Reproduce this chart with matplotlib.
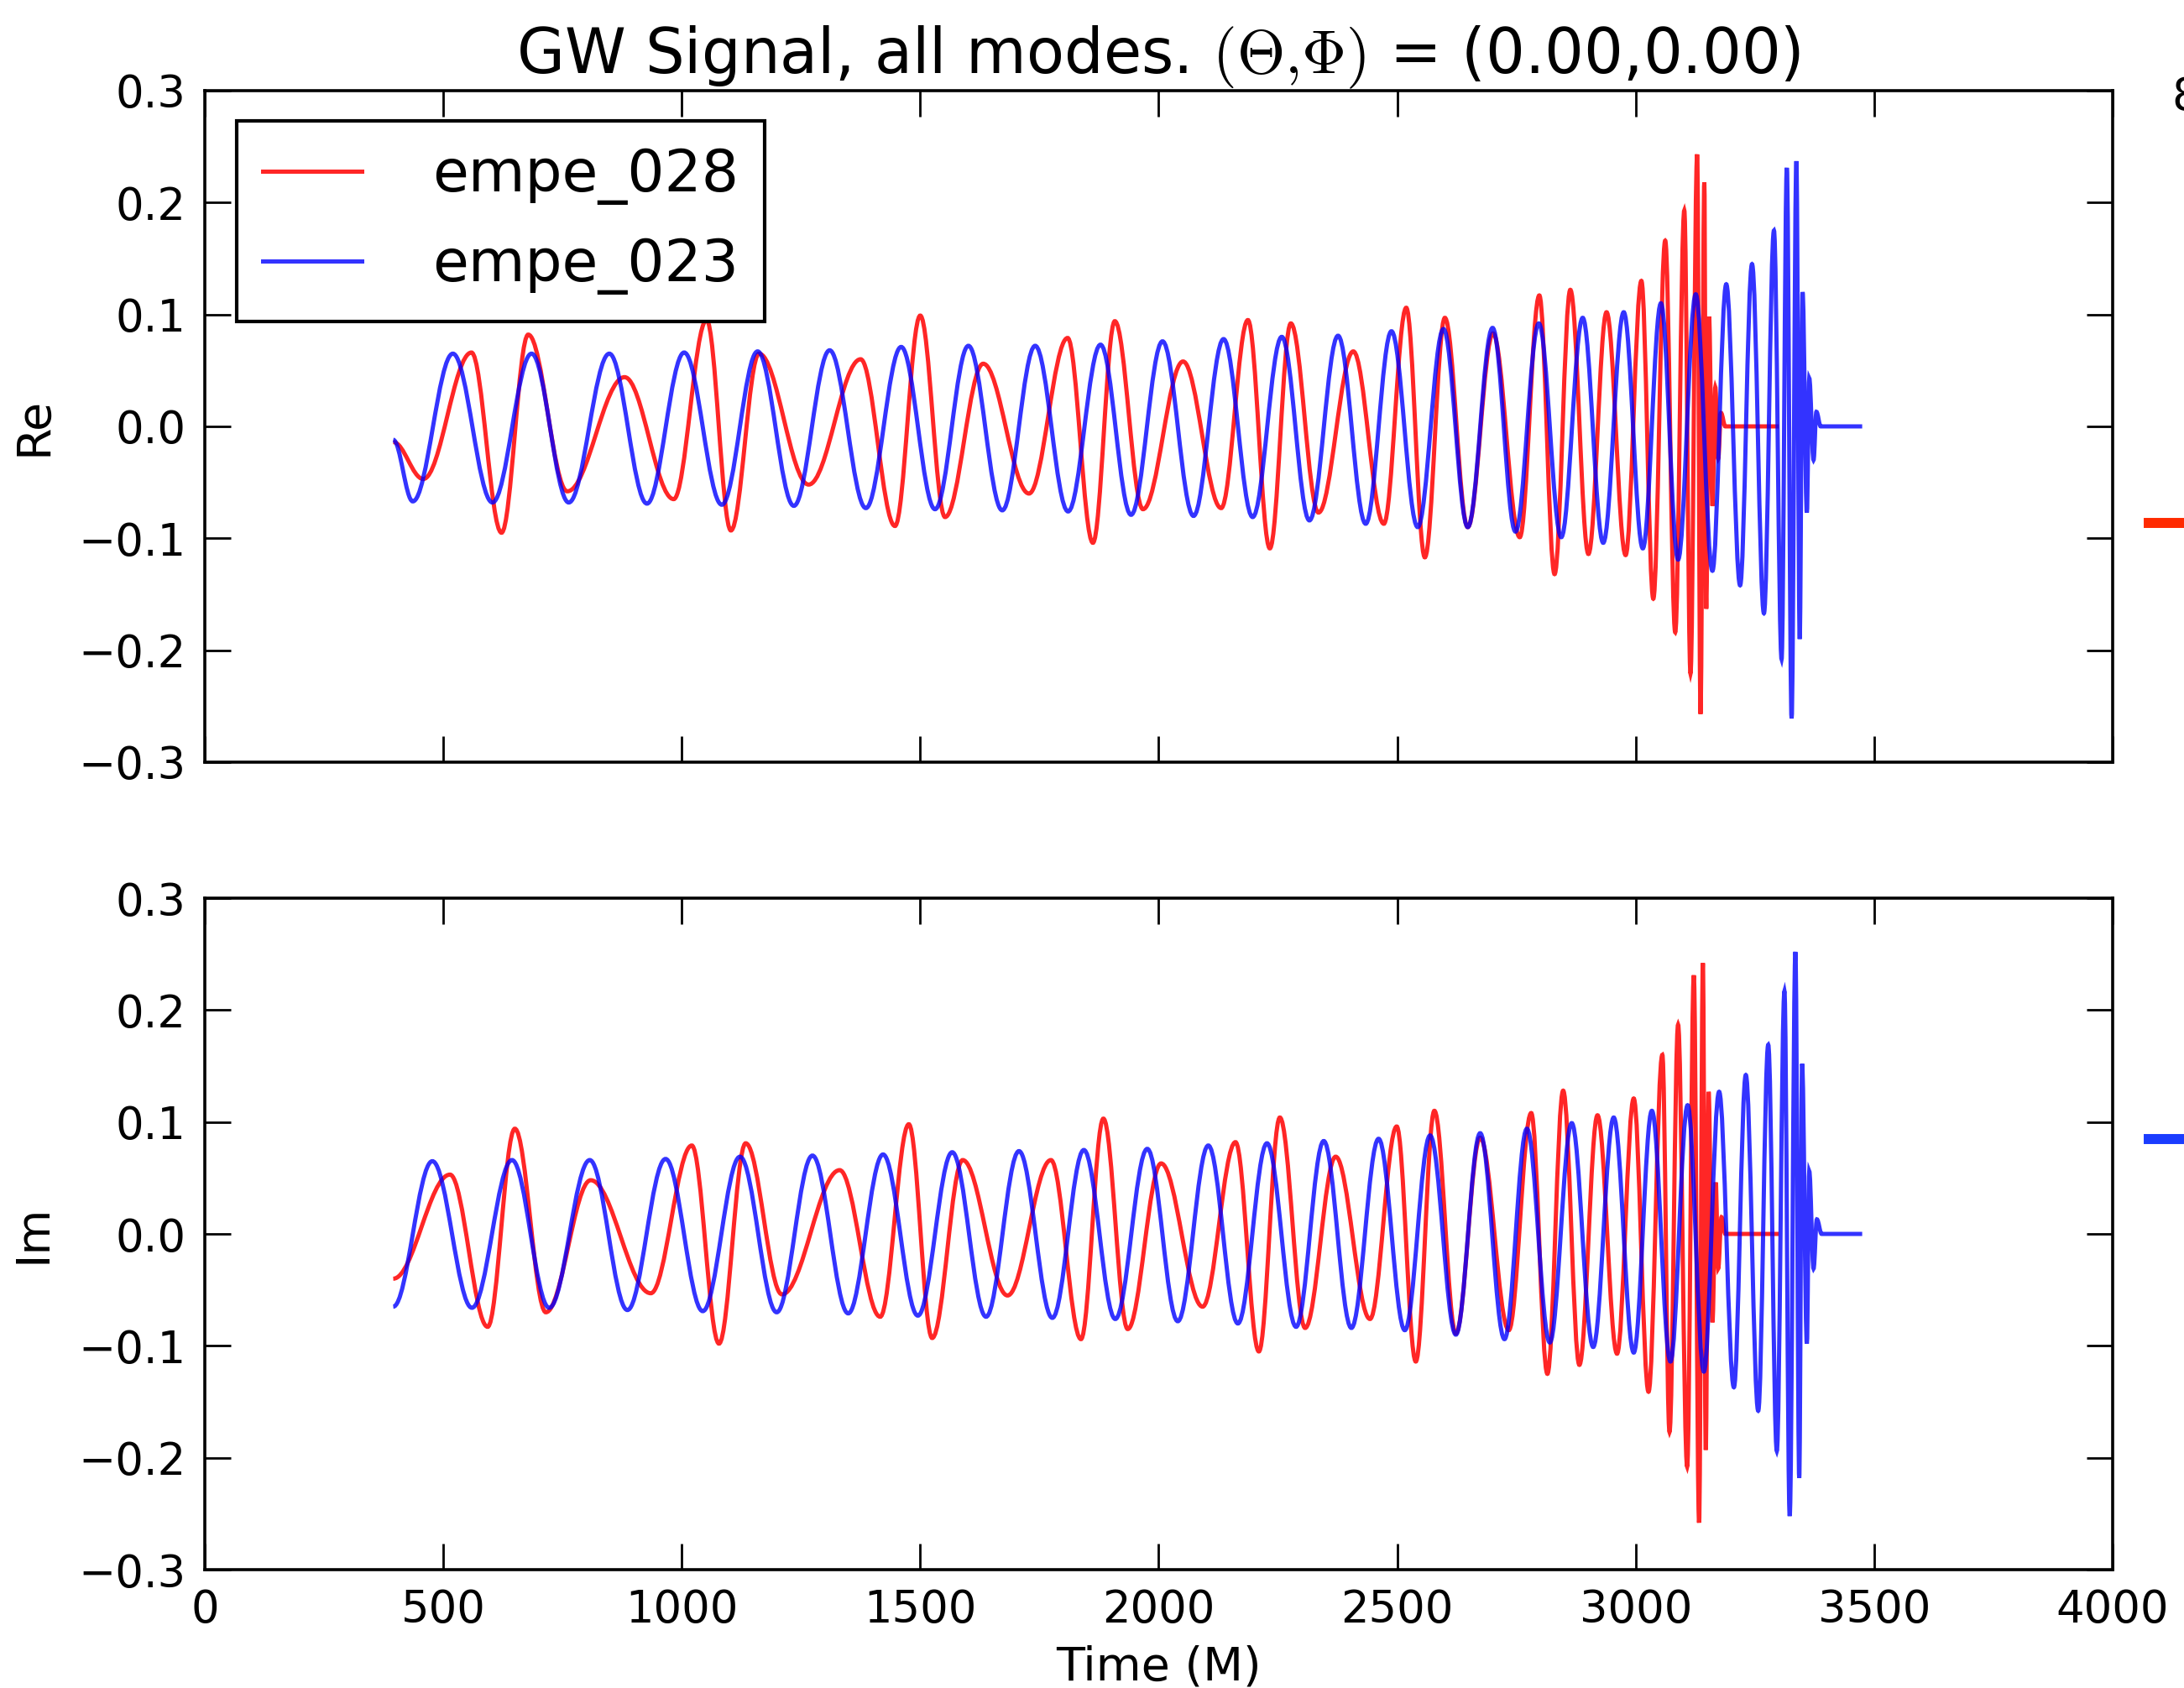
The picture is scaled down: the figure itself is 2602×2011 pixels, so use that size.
import matplotlib
matplotlib.use("Agg")
import matplotlib.pyplot as plt
from matplotlib.path import Path
from matplotlib.patches import PathPatch
from matplotlib.lines import Line2D

# extrema (time, value), Re part
re_028_t = [395, 458, 559, 622, 678, 760, 880, 983, 1052, 1103, 1162, 1266, 1375, 1447, 1500, 1552,
            1632, 1728, 1809, 1862, 1908, 1967, 2051, 2131, 2187, 2233, 2277, 2335, 2408, 2472, 2519,
            2558, 2600, 2648, 2701, 2757, 2798, 2830, 2863, 2901, 2939, 2979, 3012, 3037, 3062, 3083,
            3102, 3115, 3129, 3136, 3144, 3148, 3154, 3161, 3167, 3173, 3179, 3188, 3300]
re_028_v = [-0.014, -0.047, 0.066, -0.095, 0.082, -0.058, 0.044, -0.065, 0.095, -0.093, 0.065, -0.052,
            0.060, -0.089, 0.099, -0.081, 0.056, -0.060, 0.079, -0.104, 0.094, -0.074, 0.058, -0.073,
            0.095, -0.109, 0.092, -0.077, 0.067, -0.087, 0.106, -0.117, 0.097, -0.090, 0.083, -0.099,
            0.117, -0.132, 0.122, -0.114, 0.102, -0.115, 0.130, -0.154, 0.166, -0.184, 0.193, -0.221,
            0.243, -0.257, 0.218, -0.163, 0.098, -0.071, 0.035, -0.029, 0.012, 0.0, 0.0]

re_023_t = [395, 436, 520, 603, 685, 763, 848, 927, 1005, 1084, 1159, 1235, 1310, 1386, 1460, 1531,
            1601, 1672, 1741, 1810, 1878, 1942, 2008, 2073, 2136, 2197, 2258, 2316, 2376, 2434, 2488,
            2543, 2597, 2648, 2700, 2748, 2797, 2844, 2889, 2932, 2975, 3015, 3053, 3089, 3126, 3161,
            3190, 3219, 3244, 3269, 3290, 3306, 3317, 3327, 3337, 3344, 3350, 3359, 3364, 3373, 3379,
            3388, 3475]
re_023_v = [-0.012, -0.067, 0.065, -0.068, 0.065, -0.068, 0.065, -0.069, 0.066, -0.070, 0.067, -0.071,
            0.068, -0.073, 0.071, -0.074, 0.072, -0.075, 0.072, -0.076, 0.073, -0.079, 0.076, -0.080,
            0.078, -0.081, 0.080, -0.084, 0.081, -0.087, 0.085, -0.090, 0.087, -0.090, 0.088, -0.094,
            0.092, -0.099, 0.097, -0.104, 0.102, -0.109, 0.110, -0.119, 0.118, -0.129, 0.127, -0.142,
            0.145, -0.167, 0.175, -0.208, 0.231, -0.261, 0.237, -0.190, 0.120, -0.077, 0.043, -0.030,
            0.013, 0.0, 0.0]

# Im part
im_028_t = [395, 514, 593, 650, 715, 809, 935, 1021, 1078, 1134, 1210, 1331, 1416, 1476, 1525, 1589,
            1683, 1774, 1837, 1884, 1935, 2005, 2092, 2161, 2210, 2254, 2307, 2371, 2443, 2499, 2539,
            2578, 2623, 2674, 2734, 2781, 2815, 2848, 2882, 2920, 2961, 2996, 3027, 3056, 3071, 3089,
            3108, 3122, 3133, 3141, 3147, 3153, 3161, 3168, 3173, 3180, 3188, 3300]
im_028_v = [-0.040, 0.053, -0.083, 0.094, -0.070, 0.048, -0.053, 0.079, -0.098, 0.081, -0.054, 0.057,
            -0.074, 0.098, -0.093, 0.066, -0.055, 0.066, -0.094, 0.103, -0.085, 0.063, -0.065, 0.082,
            -0.105, 0.104, -0.084, 0.069, -0.076, 0.096, -0.114, 0.110, -0.089, 0.086, -0.086, 0.108,
            -0.125, 0.128, -0.117, 0.106, -0.107, 0.121, -0.141, 0.160, -0.177, 0.187, -0.208, 0.231,
            -0.258, 0.242, -0.193, 0.127, -0.079, 0.046, -0.031, 0.015, 0.0, 0.0]

im_023_t = [395, 477, 560, 644, 722, 807, 886, 966, 1044, 1122, 1199, 1274, 1349, 1422, 1495, 1567,
            1638, 1707, 1777, 1843, 1909, 1976, 2040, 2104, 2166, 2227, 2288, 2346, 2404, 2461, 2516,
            2569, 2623, 2674, 2725, 2772, 2820, 2866, 2911, 2954, 2996, 3034, 3073, 3109, 3143, 3175,
            3206, 3231, 3257, 3278, 3296, 3312, 3323, 3335, 3343, 3349, 3359, 3364, 3373, 3380, 3390,
            3475]
im_023_v = [-0.065, 0.065, -0.066, 0.066, -0.066, 0.066, -0.068, 0.067, -0.069, 0.069, -0.070, 0.070,
            -0.071, 0.071, -0.073, 0.073, -0.074, 0.074, -0.075, 0.075, -0.076, 0.076, -0.078, 0.079,
            -0.080, 0.081, -0.083, 0.083, -0.084, 0.085, -0.086, 0.088, -0.090, 0.090, -0.094, 0.094,
            -0.097, 0.099, -0.101, 0.104, -0.106, 0.110, -0.114, 0.115, -0.123, 0.127, -0.137, 0.142,
            -0.158, 0.169, -0.194, 0.217, -0.252, 0.252, -0.218, 0.152, -0.098, 0.056, -0.031, 0.013,
            0.0, 0.0]

labels = ["empe_028", "empe_023"]
y_ticks = [-0.3, -0.2, -0.1, 0.0, 0.1, 0.2, 0.3]
x_ticks = [0, 500, 1000, 1500, 2000, 2500, 3000, 3500, 4000]

plt.rcParams["mathtext.fontset"] = "cm"
plt.rcParams["axes.unicode_minus"] = True


def wave_path(t, v, k=0.364):
    # smooth curve through the extrema, flat tangent at each one
    verts = [(t[0], v[0])]
    codes = [Path.MOVETO]
    for i in range(len(t) - 1):
        dt = t[i + 1] - t[i]
        verts += [(t[i] + k * dt, v[i]), (t[i + 1] - k * dt, v[i + 1]), (t[i + 1], v[i + 1])]
        codes += [Path.CURVE4] * 3
    return Path(verts, codes)


fig = plt.figure(figsize=(13.01, 10.055), dpi=200)
ax1 = fig.add_axes([0.0938, 0.5485, 0.8735, 0.3978])
ax2 = fig.add_axes([0.0938, 0.0701, 0.8735, 0.3978])

lw = 1.8
series = [(ax1, re_028_t, re_028_v, re_023_t, re_023_v, "Re"),
          (ax2, im_028_t, im_028_v, im_023_t, im_023_v, "Im")]
for ax, t1, v1, t2, v2, name in series:
    ax.add_patch(PathPatch(wave_path(t1, v1), facecolor="none", edgecolor="r", lw=lw, alpha=0.85))
    ax.add_patch(PathPatch(wave_path(t2, v2), facecolor="none", edgecolor="b", lw=lw, alpha=0.8))
    ax.set_xlim(0, 4000)
    ax.set_ylim(-0.3, 0.3)
    ax.set_xticks(x_ticks)
    ax.set_yticks(y_ticks)
    ax.set_yticklabels([f"{y:.1f}".replace("-", "\u2212") for y in y_ticks])
    ax.tick_params(direction="in", top=True, right=True, length=11, width=1.0,
                   labelsize=19, pad=8)
    for sp in ax.spines.values():
        sp.set_linewidth(1.3)
    ax.set_ylabel(name, fontsize=20)
    ax.yaxis.set_label_coords(-0.078, 0.5)

ax1.set_xticklabels([])
ax2.set_xticklabels([str(x) for x in x_ticks])
ax2.set_xlabel("Time (M)", fontsize=20)
ax2.xaxis.set_label_coords(0.5, -0.112)

ax1.set_title(r"GW Signal, all modes. $(\Theta{,}\Phi)$ = (0.00,0.00)", fontsize=26.5, pad=6)

handles = [Line2D([], [], color="r", lw=lw, alpha=0.85), Line2D([], [], color="b", lw=lw, alpha=0.8)]
leg = ax1.legend(handles, labels, loc="upper left", bbox_to_anchor=(0.0167, 0.955), borderaxespad=0,
                 fontsize=25, fancybox=False, framealpha=1, handlelength=1.7, handletextpad=1.2,
                 borderpad=0.45, labelspacing=0.55)
leg.get_frame().set_edgecolor("black")
leg.get_frame().set_linewidth(1.5)

# pieces of a neighbouring figure cut off at the right edge
fig.text(0.9942, 0.9423, "8", fontsize=19, va="center", ha="left")
fig.add_artist(Line2D([0.984, 1.0], [0.690, 0.690], color="#ff2a00", lw=4.3))
fig.add_artist(Line2D([0.984, 1.0], [0.325, 0.325], color="#1a3cff", lw=4.3))

fig.savefig("out.png", dpi=200)
